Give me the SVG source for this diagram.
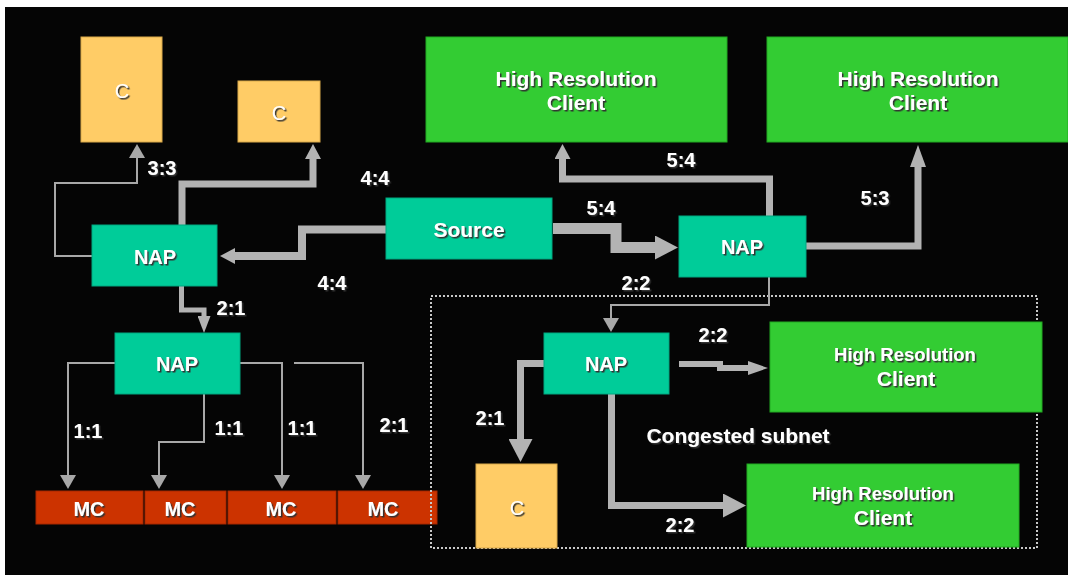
<svg xmlns="http://www.w3.org/2000/svg" width="1068" height="575" viewBox="0 0 1068 575">
<style>
text{font-family:"Liberation Sans",Arial,Helvetica,sans-serif;fill:#ffffff;text-anchor:middle;filter:url(#sh)}
.b{font-weight:bold;font-size:20px}
.c{font-weight:normal;font-size:20px}
.h{font-weight:bold;font-size:21px}
.hs{font-weight:bold;font-size:18.5px}
.lbl{font-weight:bold;font-size:20px}
.nap{fill:#00cc99;stroke:#00a880;stroke-width:1}
.hrc{fill:#33cc33;stroke:#22aa22;stroke-width:1}
.cl{fill:#ffcc66;stroke:#d9a94a;stroke-width:1}
.mc{fill:#cc3300;stroke:#a82800;stroke-width:1}
.thick{fill:none;stroke:#b3b3b3;stroke-linejoin:miter}
.thin{fill:none;stroke:#a8a8a8;stroke-width:2;marker-end:url(#aThin)}
</style>
<defs>
<filter id="sh" x="-20%" y="-20%" width="140%" height="140%">
<feDropShadow dx="1.5" dy="1.5" stdDeviation="0" flood-color="#303030" flood-opacity="1"/>
</filter>
<marker id="aThin" markerUnits="userSpaceOnUse" markerWidth="16" markerHeight="16" refX="0" refY="8" orient="auto" viewBox="0 0 14 16">
<path d="M0,0 L14,8 L0,16 z" fill="#a8a8a8"/>
</marker>
<marker id="aS" markerUnits="userSpaceOnUse" markerWidth="15" markerHeight="16" refX="0" refY="8" orient="auto" viewBox="0 0 15 16">
<path d="M0,0 L15,8 L0,16 z" fill="#b3b3b3"/>
</marker>
<marker id="aL" markerUnits="userSpaceOnUse" markerWidth="23" markerHeight="24" refX="0" refY="12" orient="auto" viewBox="0 0 23 24">
<path d="M0,0 L23,12 L0,24 z" fill="#b3b3b3"/>
</marker>
<marker id="aT" markerUnits="userSpaceOnUse" markerWidth="22" markerHeight="16" refX="0" refY="8" orient="auto" viewBox="0 0 22 16">
<path d="M0,0 L22,8 L0,16 z" fill="#b3b3b3"/>
</marker>
<marker id="aM" markerUnits="userSpaceOnUse" markerWidth="20" markerHeight="14" refX="0" refY="7" orient="auto" viewBox="0 0 20 14">
<path d="M0,0 L20,7 L0,14 z" fill="#b3b3b3"/>
</marker>
<marker id="aN" markerUnits="userSpaceOnUse" markerWidth="17" markerHeight="13" refX="0" refY="6.5" orient="auto" viewBox="0 0 17 13">
<path d="M0,0 L17,6.5 L0,13 z" fill="#b3b3b3"/>
</marker>
</defs>
<rect x="5" y="7" width="1063" height="568" fill="#050505"/>

<g id="mc1"><rect class="mc" x="36" y="491" width="107" height="33"/><text class="b" x="89" y="516">MC</text></g>
<g id="mc2"><rect class="mc" x="145" y="491" width="81" height="33"/><text class="b" x="180" y="516">MC</text></g>
<g id="mc3"><rect class="mc" x="228" y="491" width="108" height="33"/><text class="b" x="281" y="516">MC</text></g>
<g id="mc4"><rect class="mc" x="338" y="491" width="99" height="33"/><text class="b" x="383" y="516">MC</text></g>

<g id="subnet">
<rect x="431" y="296" width="606" height="252" fill="none" stroke="#c8c8c8" stroke-width="2" stroke-dasharray="2 2"/>
<text class="h" x="738" y="443">Congested subnet</text>
</g>

<g id="connectors">
<path class="thin" d="M92,256 H55 V183 H137 V158"/>
<path class="thick" stroke-width="7" d="M182,225 V184 H313 V159" marker-end="url(#aS)"/>
<path class="thick" stroke-width="8" d="M386,229.5 H302 V256 H235" marker-end="url(#aS)"/>
<path class="thick" stroke-width="11" d="M553,228.5 H616 V247.5 H655" marker-end="url(#aL)"/>
<path class="thick" stroke-width="7" d="M769.5,216 V179 H562.5 V159" marker-end="url(#aS)"/>
<path class="thick" stroke-width="7" d="M806,246 H918 V167" marker-end="url(#aT)"/>
<path class="thin" d="M769,277 V305 H611 V318"/>
<path class="thick" stroke-width="6" d="M679,364 H720 V368 H748" marker-end="url(#aM)"/>
<path class="thick" stroke-width="7" d="M544,363.5 H520.5 V439" marker-end="url(#aL)"/>
<path class="thick" stroke-width="7" d="M611.5,394 V505.5 H723" marker-end="url(#aL)"/>
<path class="thick" stroke-width="5" d="M181.5,286 V310 H204 V316" marker-end="url(#aN)"/>
<path class="thin" d="M115,363 H68 V475"/>
<path class="thin" d="M204,394 V442 H159 V475"/>
<path class="thin" d="M240,363 H282 V475"/>
<path class="thin" d="M294,363 H363 V475"/>
<text class="lbl" x="162" y="175">3:3</text>
<text class="lbl" x="375" y="185">4:4</text>
<text class="lbl" x="332" y="290">4:4</text>
<text class="lbl" x="601" y="215">5:4</text>
<text class="lbl" x="681" y="167">5:4</text>
<text class="lbl" x="875" y="205">5:3</text>
<text class="lbl" x="636" y="290">2:2</text>
<text class="lbl" x="231" y="315">2:1</text>
<text class="lbl" x="88" y="438">1:1</text>
<text class="lbl" x="229" y="435">1:1</text>
<text class="lbl" x="302" y="435">1:1</text>
<text class="lbl" x="394" y="432">2:1</text>
<text class="lbl" x="713" y="342">2:2</text>
<text class="lbl" x="490" y="425">2:1</text>
<text class="lbl" x="680" y="532">2:2</text>
</g>

<g id="c1"><rect class="cl" x="81" y="37" width="81" height="105"/><text class="c" x="122" y="98">C</text></g>
<g id="c2"><rect class="cl" x="238" y="81" width="82" height="61"/><text class="c" x="279" y="120">C</text></g>
<g id="c3"><rect class="cl" x="476" y="464" width="81" height="84"/><text class="c" x="517" y="515">C</text></g>

<g id="nap1"><rect class="nap" x="92" y="225" width="125" height="61"/><text class="b" x="155" y="264">NAP</text></g>
<g id="source"><rect class="nap" x="386" y="198" width="166" height="61"/><text class="h" x="469" y="237">Source</text></g>
<g id="nap2"><rect class="nap" x="679" y="216" width="127" height="61"/><text class="b" x="742" y="254">NAP</text></g>
<g id="nap3"><rect class="nap" x="115" y="333" width="125" height="61"/><text class="b" x="177" y="371">NAP</text></g>
<g id="nap4"><rect class="nap" x="544" y="333" width="125" height="61"/><text class="b" x="606" y="371">NAP</text></g>

<g id="hrc1"><rect class="hrc" x="426" y="37" width="301" height="105"/><text class="h" x="576" y="86">High Resolution</text><text class="h" x="576" y="110">Client</text></g>
<g id="hrc2"><rect class="hrc" x="767" y="37" width="301" height="105"/><text class="h" x="918" y="86">High Resolution</text><text class="h" x="918" y="110">Client</text></g>
<g id="hrc3"><rect class="hrc" x="770" y="322" width="272" height="90"/><text class="hs" x="905" y="361">High Resolution</text><text class="h" x="906" y="386">Client</text></g>
<g id="hrc4"><rect class="hrc" x="747" y="464" width="272" height="83"/><text class="hs" x="883" y="500">High Resolution</text><text class="h" x="883" y="525">Client</text></g>
</svg>
